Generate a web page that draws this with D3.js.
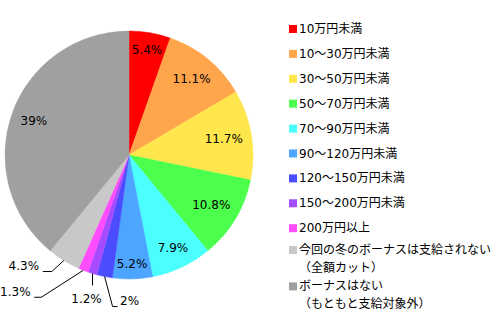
<!DOCTYPE html>
<html>
<head>
<meta charset="utf-8">
<script src="https://cdn.jsdelivr.net/npm/d3@7"></script>
<style>
  html, body { margin: 0; padding: 0; background: #fff; }
  svg text { font-family: "DejaVu Sans", "Noto Sans CJK JP", sans-serif; font-size: 12px; fill: #000; }
</style>
</head>
<body>
<svg id="chart" width="499" height="326"></svg>
<script>
// Winter bonus amount distribution (share of respondents, %)
const categories = [
  "10万円未満",
  "10～30万円未満",
  "30～50万円未満",
  "50～70万円未満",
  "70～90万円未満",
  "90～120万円未満",
  "120～150万円未満",
  "150～200万円未満",
  "200万円以上",
  "今回の冬のボーナスは支給されない\n（全額カット）",
  "ボーナスはない\n（もともと支給対象外）"
];
const shares = [5.4, 11.1, 11.7, 10.8, 7.9, 5.2, 2, 1.2, 1.3, 4.3, 39];
const colors = [
  "#ff0000", "#ffa54c", "#ffe64c", "#4cff4c", "#4cffff", "#4ca5ff",
  "#4c4cff", "#a54cff", "#ff4cff", "#c8c8c8", "#a0a0a0"
];

const svg = d3.select("#chart");
const cx = 129, cy = 155, radius = 124;

const pie = d3.pie().sort(null).value(d => d.value).startAngle(0).endAngle(2 * Math.PI);
const rows = categories.map((c, i) => ({ name: c, value: shares[i], color: colors[i], idx: i }));
const arcs = pie(rows);
const arc = d3.arc().innerRadius(0).outerRadius(radius);

const g = svg.append("g").attr("transform", `translate(${cx},${cy})`);

g.selectAll("path.slice")
  .data(arcs)
  .join("path")
  .attr("class", "slice")
  .attr("d", arc)
  .attr("fill", d => d.data.color)
  .attr("stroke", d => d.data.color)
  .attr("stroke-width", 0.5);

// Small slices get their labels outside with leader lines.
// Offsets are relative to the point on the rim at the slice's mid angle.
const outside = {
  6: { label: [25, 24], path: [[8, 30], [13, 30]] },
  7: { label: [-6, 25], path: [[0, 12]] },
  8: { label: [-68, 22], path: [[-42, 27], [-49, 27]] },
  9: { label: [-40, 6], path: [[-12, 11], [-21, 11]] }
};

const fmt = v => `${v}%`;
const pad = 8;

arcs.forEach(d => {
  const mid = (d.startAngle + d.endAngle) / 2;
  const sx = Math.sin(mid), sy = -Math.cos(mid);
  const spec = outside[d.data.idx];
  if (spec) {
    const rx = sx * radius, ry = sy * radius;
    const pts = [[rx, ry]].concat(spec.path.map(p => [rx + p[0], ry + p[1]]));
    g.append("path")
      .attr("d", d3.line()(pts))
      .attr("fill", "none")
      .attr("stroke", "#000")
      .attr("stroke-width", 1);
    g.append("text")
      .attr("x", rx + spec.label[0])
      .attr("y", ry + spec.label[1])
      .attr("text-anchor", "middle")
      .attr("dominant-baseline", "central")
      .text(fmt(d.data.value));
  } else {
    const t = g.append("text")
      .attr("text-anchor", "middle")
      .attr("dominant-baseline", "central")
      .text(fmt(d.data.value));
    const bb = t.node().getBBox();
    const extent = Math.abs(sx) * bb.width / 2 + Math.abs(sy) * bb.height / 2;
    const dist = radius - pad - extent;
    t.attr("x", sx * dist).attr("y", sy * dist);
  }
});

// Legend
const legend = svg.append("g").attr("transform", "translate(289,0)");
const singleH = 24.9, doubleH = 36.4, lineH = 17.7;
let y = 29 - singleH / 2;
rows.forEach(r => {
  const lines = r.name.split("\n");
  const h = lines.length > 1 ? doubleH : singleH;
  const center = y + h / 2;
  const firstY = center - (lines.length - 1) * lineH / 2;
  legend.append("rect")
    .attr("x", 0)
    .attr("y", firstY - 4)
    .attr("width", 8)
    .attr("height", 8)
    .attr("fill", r.color);
  lines.forEach((ln, k) => {
    legend.append("text")
      .attr("x", 10)
      .attr("y", firstY + k * lineH)
      .attr("dominant-baseline", "central")
      .text(ln);
  });
  y += h;
});
</script>
</body>
</html>
